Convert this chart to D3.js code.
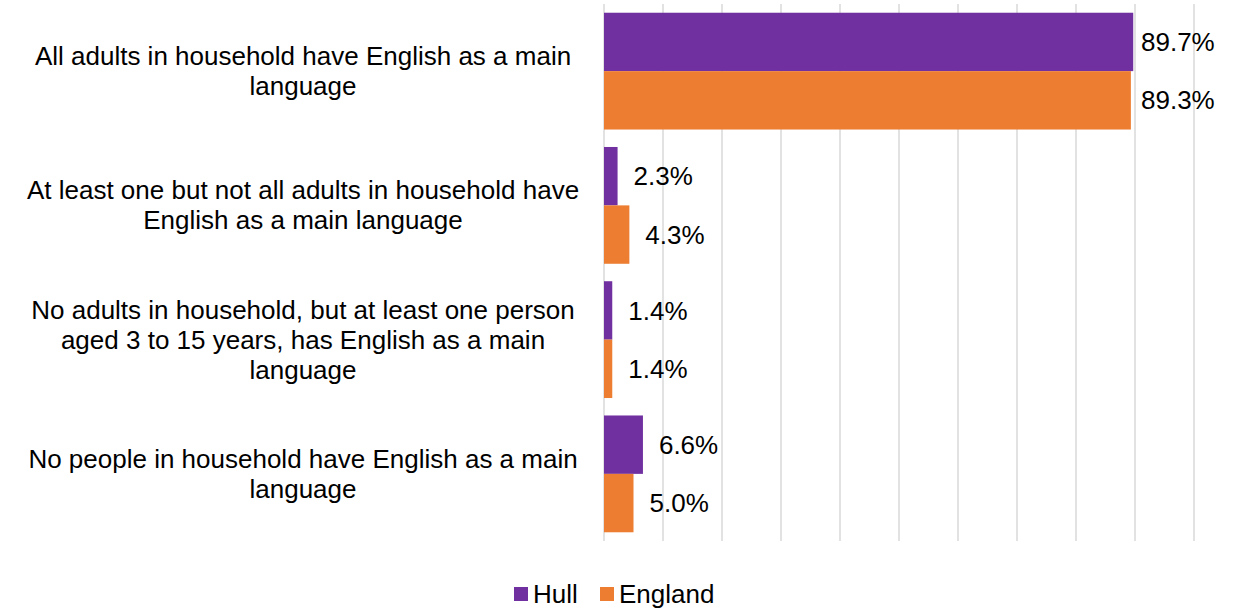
<!DOCTYPE html>
<html>
<head>
<meta charset="utf-8">
<script src="https://cdn.jsdelivr.net/npm/d3@7"></script>
<style>
  body { margin: 0; background: white; }
  text { font-family: "Liberation Sans", Arial, sans-serif; fill: #000; }
</style>
</head>
<body>
<div id="chart"></div>
<script>
const categories = [
  ["All adults in household have English as a main", "language"],
  ["At least one but not all adults in household have", "English as a main language"],
  ["No adults in household, but at least one person", "aged 3 to 15 years, has English as a main", "language"],
  ["No people in household have English as a main", "language"]
];
const seriesNames = ["Hull", "England"];
const hullValues = [89.7, 2.3, 1.4, 6.6];
const englandValues = [89.3, 4.3, 1.4, 5.0];
const xTicks = [0, 10, 20, 30, 40, 50, 60, 70, 80, 90, 100];
const colors = ["#7030A0", "#ED7D31"];

const W = 1236, H = 611;
const margin = { top: 4, left: 604, right: 42, bottom: 70 };
const plotW = 1194 - margin.left;
const plotH = 541 - margin.top;
const fontSize = 26;

const svg = d3.select("#chart").append("svg")
  .attr("width", W)
  .attr("height", H);

const g = svg.append("g")
  .attr("transform", `translate(${margin.left},${margin.top})`);

const x = d3.scaleLinear().domain([0, 100]).range([0, plotW]);
const y = d3.scaleBand().domain(d3.range(categories.length)).range([0, plotH]).paddingInner(0.13).paddingOuter(0.065);
const ySub = d3.scaleBand().domain([0, 1]).range([0, y.bandwidth()]);

// vertical gridlines
g.append("g")
  .selectAll("line")
  .data(xTicks)
  .join("line")
  .attr("x1", d => x(d))
  .attr("x2", d => x(d))
  .attr("y1", 0)
  .attr("y2", plotH)
  .attr("stroke", "#d9d9d9")
  .attr("stroke-width", 1.5);

const rows = categories.map((c, i) => [hullValues[i], englandValues[i]]);

const groups = g.selectAll(".grp")
  .data(rows)
  .join("g")
  .attr("class", "grp")
  .attr("transform", (d, i) => `translate(0,${y(i)})`);

groups.selectAll("rect")
  .data(d => d)
  .join("rect")
  .attr("x", 0)
  .attr("y", (d, j) => ySub(j))
  .attr("width", d => x(d))
  .attr("height", ySub.bandwidth())
  .attr("fill", (d, j) => colors[j]);

// value labels, kept inside the page on the right
groups.selectAll("text")
  .data(d => d)
  .join("text")
  .attr("x", d => Math.min(x(d) + 16, plotW - 53))
  .attr("y", (d, j) => ySub(j) + ySub.bandwidth() / 2)
  .attr("dy", "0.35em")
  .attr("font-size", fontSize)
  .text(d => d.toFixed(1) + "%");

// category labels (multi-line, centred)
const lineH = 30;
const labelX = 303;
svg.append("g")
  .selectAll("text")
  .data(categories)
  .join("text")
  .attr("text-anchor", "middle")
  .attr("font-size", fontSize)
  .attr("transform", (d, i) => `translate(${labelX},${margin.top + y(i) + y.bandwidth() / 2})`)
  .each(function (lines) {
    const t = d3.select(this);
    const off = -(lines.length - 1) * lineH / 2;
    lines.forEach((l, k) => {
      t.append("tspan")
        .attr("x", 0)
        .attr("y", off + k * lineH)
        .attr("dy", "0.35em")
        .text(l);
    });
  });

// legend
const legend = svg.append("g").attr("transform", "translate(514,587)");
const legX = [0, 86];
seriesNames.forEach((s, i) => {
  const lg = legend.append("g").attr("transform", `translate(${legX[i]},0)`);
  lg.append("rect").attr("width", 14).attr("height", 14).attr("fill", colors[i]);
  lg.append("text").attr("x", 19).attr("y", 7).attr("dy", "0.35em").attr("font-size", fontSize).text(s);
});
</script>
</body>
</html>
